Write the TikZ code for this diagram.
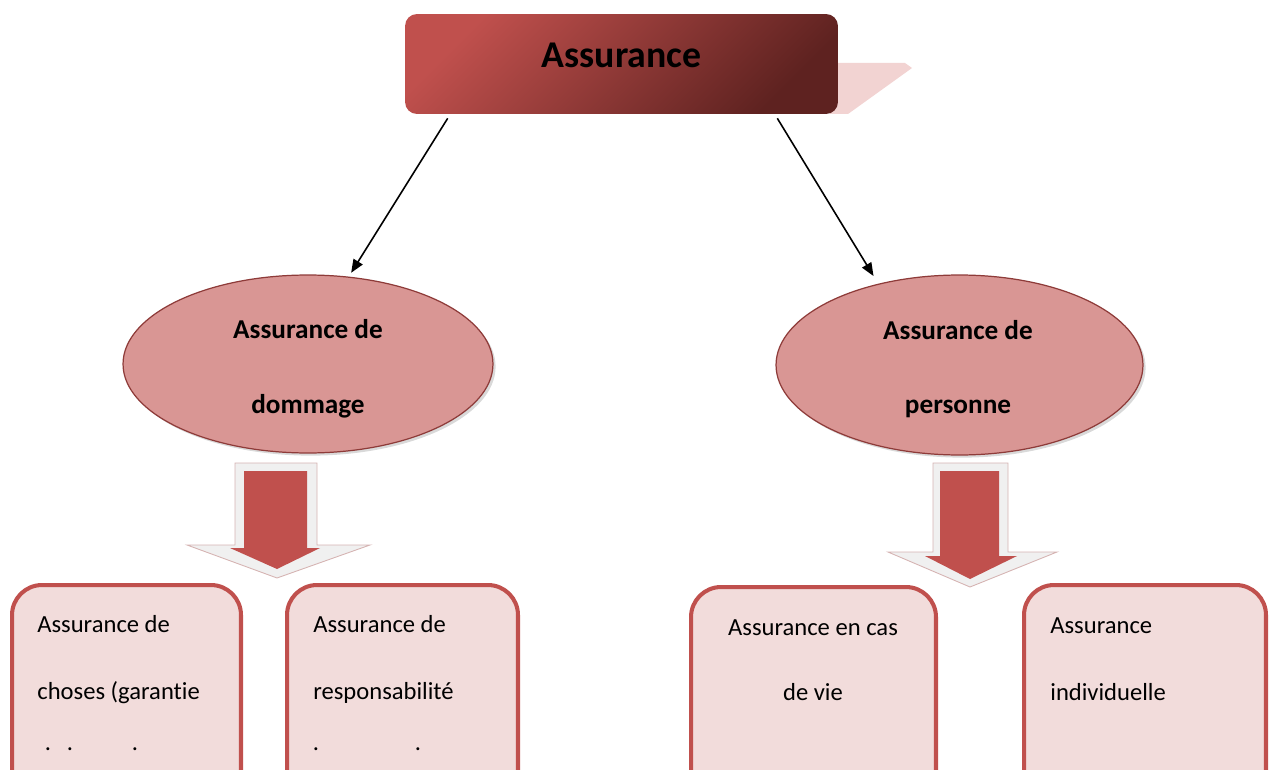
\documentclass[tikz,border=0pt]{standalone}
\usepackage{fontspec}
\setmainfont{Carlito}[Ligatures=NoCommon]
\usetikzlibrary{arrows.meta,shapes.geometric,shadows}
\definecolor{accentred}{HTML}{C0504D}
\definecolor{darkred}{HTML}{5E2220}
\definecolor{ovalfill}{HTML}{D99694}
\definecolor{ovalline}{HTML}{8E3B39}
\definecolor{boxfill}{HTML}{F2DCDB}
\definecolor{shadowpink}{HTML}{F2D3D2}
\definecolor{arrowgray}{HTML}{F0F0F0}
\definecolor{arrowedge}{HTML}{D5B3B2}

\begin{document}
\begin{tikzpicture}[x=0.02cm,y=-0.02cm,
    titlebox/.style={rectangle, rounded corners=0.24cm, minimum width=8.66cm, minimum height=2cm,
      top color=accentred, bottom color=darkred, shading angle=45,
      font=\bfseries\fontsize{21.5}{26}\selectfont, text depth=0.36cm},
    oval/.style={ellipse, draw=ovalline, line width=0.7pt, fill=ovalfill, inner sep=0pt,
      minimum width=7.4cm, minimum height=3.56cm,
      drop shadow={shadow xshift=1.5pt, shadow yshift=-1.5pt, opacity=0.3}},
    ovaltext/.style={align=center, inner sep=0pt, font=\bfseries\fontsize{15.5}{42.5}\selectfont},
    leaf/.style={rectangle, rounded corners=0.6cm, draw=accentred, line width=2.3pt, fill=boxfill,
      minimum height=4.5cm},
    leaftext/.style={font=\fontsize{14}{17}\selectfont, inner sep=0pt},
    link/.style={-{Triangle[length=7.5pt,width=6pt]}, line width=0.9pt},
  ]
  \path[use as bounding box, clip] (0,0) rectangle (1270,770);

  % title with its shadow
  \fill[shadowpink] (830,63) -- (905,63) -- (912,68) -- (848,114) -- (830,114) -- cycle;
  \node[titlebox] (assurance) at (621.5,64) {Assurance};

  \node[oval] (dommage) at (308,364) {};
  \node[ovaltext] (dommagetext) at (308,369) {Assurance de\\dommage};
  \node[oval, minimum width=7.34cm, minimum height=3.6cm] (personne) at (959.5,365) {};
  \node[ovaltext] (personnetext) at (958,369) {Assurance de\\personne};

  \draw[link, shorten >=0.09cm] ([xshift=0.86cm,yshift=-0.08cm]assurance.south west) -- (dommage.65);
  \draw[link, shorten >=0.18cm] ([xshift=-1.22cm,yshift=-0.08cm]assurance.south east) -- (personne.135);

  % block arrows
  \filldraw[fill=arrowgray, draw=arrowedge, line width=0.5pt]
    (235,463) -- (317,463) -- (317,545) -- (370,545) -- (277,578) -- (187,545) -- (235,545) -- cycle;
  \fill[accentred] (244,471) -- (307,471) -- (307,548) -- (320,548) -- (277,569) -- (230,548) -- (244,548) -- cycle;
  \filldraw[fill=arrowgray, draw=arrowedge, line width=0.5pt]
    (933,463) -- (1008,463) -- (1008,552) -- (1057,552) -- (970,587) -- (888,552) -- (933,552) -- cycle;
  \fill[accentred] (940,471) -- (999,471) -- (999,556) -- (1017,556) -- (970,579) -- (925,556) -- (940,556) -- cycle;

  \node[leaf, minimum width=4.58cm] (choses) at (126.5,697.5) {};
  \node[leaf, minimum width=4.62cm] (responsabilite) at (402.5,697.5) {};
  \node[leaf, minimum width=4.9cm] (vie) at (813.5,699.5) {};
  \node[leaf, minimum width=4.84cm] (individuelle) at (1145,697.5) {};

  \node[leaftext, anchor=base west] (choses1) at (37,632) {Assurance de};
  \node[leaftext, anchor=base west] (choses2) at (37,699) {choses (garantie};
  \foreach \x [count=\i] in {48,70,135}
    \node[leaftext, anchor=base] (chosesdot\i) at (\x,750) {.};
  \node[leaftext, anchor=base west] (resp1) at (313,632) {Assurance de};
  \node[leaftext, anchor=base west] (resp2) at (313,699) {responsabilité};
  \foreach \x [count=\i] in {316,418}
    \node[leaftext, anchor=base] (respdot\i) at (\x,750) {.};
  \node[leaftext, anchor=base] (vie1) at (813,635) {Assurance en cas};
  \node[leaftext, anchor=base] (vie2) at (813,700) {de vie};
  \node[leaftext, anchor=base west] (indiv1) at (1050,633) {Assurance};
  \node[leaftext, anchor=base west] (indiv2) at (1050,700) {individuelle};
\end{tikzpicture}
\end{document}
